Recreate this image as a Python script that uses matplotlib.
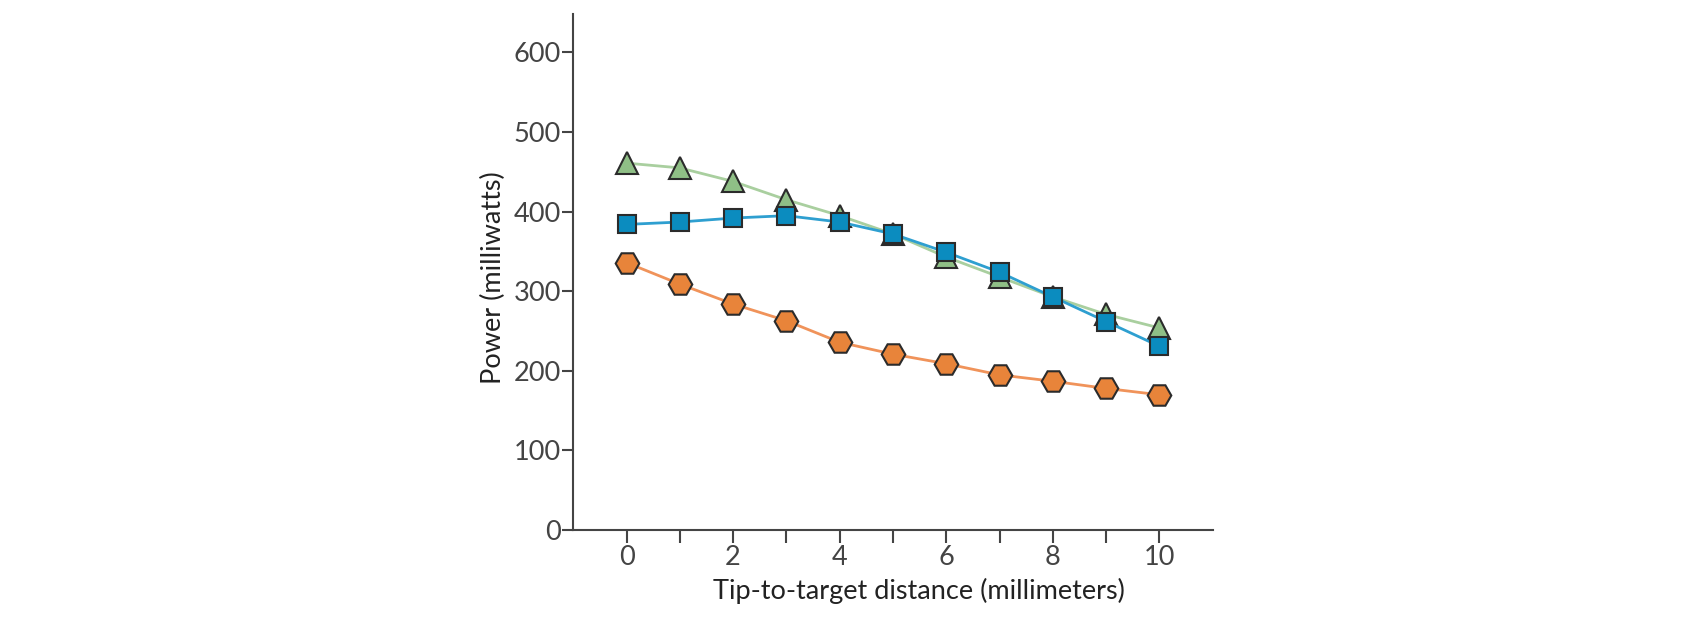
import matplotlib.pyplot as plt

distance = [0, 1, 2, 3, 4, 5, 6, 7, 8, 9, 10]
power_green = [461, 455, 438, 415, 395, 372, 343, 318, 293, 271, 254]
power_blue = [384, 387, 392, 395, 387, 372, 349, 324, 293, 262, 231]
power_orange = [336, 309, 284, 263, 236, 221, 209, 195, 187, 178, 170]

plt.rcParams['font.family'] = ['Lato', 'DejaVu Sans']

fig = plt.figure(figsize=(16.96, 6.2), dpi=100)
ax = fig.add_axes([0.338, 0.145, 0.377, 0.832])

edge = '#2b2b2b'
ax.plot(distance, power_green, color='#a9cf9f', lw=2, marker='^', ms=16,
        mfc='#8fbf86', mec=edge, mew=1.5, zorder=3)
ax.plot(distance, power_blue, color='#2e9fd0', lw=2, marker='s', ms=13,
        mfc='#0b8cbf', mec=edge, mew=1.5, zorder=4)
ax.plot(distance, power_orange, color='#f0935a', lw=2, marker='H', ms=17,
        mfc='#e8843a', mec=edge, mew=1.5, zorder=3)

ax.set_xlim(-1, 11)
ax.set_ylim(0, 648)
ax.set_xticks([0, 2, 4, 6, 8, 10])
ax.set_xticks([1, 3, 5, 7, 9], minor=True)
ax.set_yticks([0, 100, 200, 300, 400, 500, 600])

for s in ['top', 'right']:
    ax.spines[s].set_visible(False)
for s in ['left', 'bottom']:
    ax.spines[s].set_color('#444444')
    ax.spines[s].set_linewidth(1.5)

ax.tick_params(axis='both', which='both', colors='#444444', width=1.5,
               labelsize=19.5, labelcolor='#444444')
ax.tick_params(axis='x', which='both', length=9, pad=2)
ax.tick_params(axis='y', length=8, pad=1)

ax.set_xlabel('Tip-to-target distance (millimeters)', fontsize=19.5, color='#222222')
ax.set_ylabel('Power (milliwatts)', fontsize=19.5, color='#222222')
ax.xaxis.set_label_coords(0.54, -0.093)
ax.yaxis.set_label_coords(-0.105, 0.49)

fig.savefig('out.png', dpi=100)
